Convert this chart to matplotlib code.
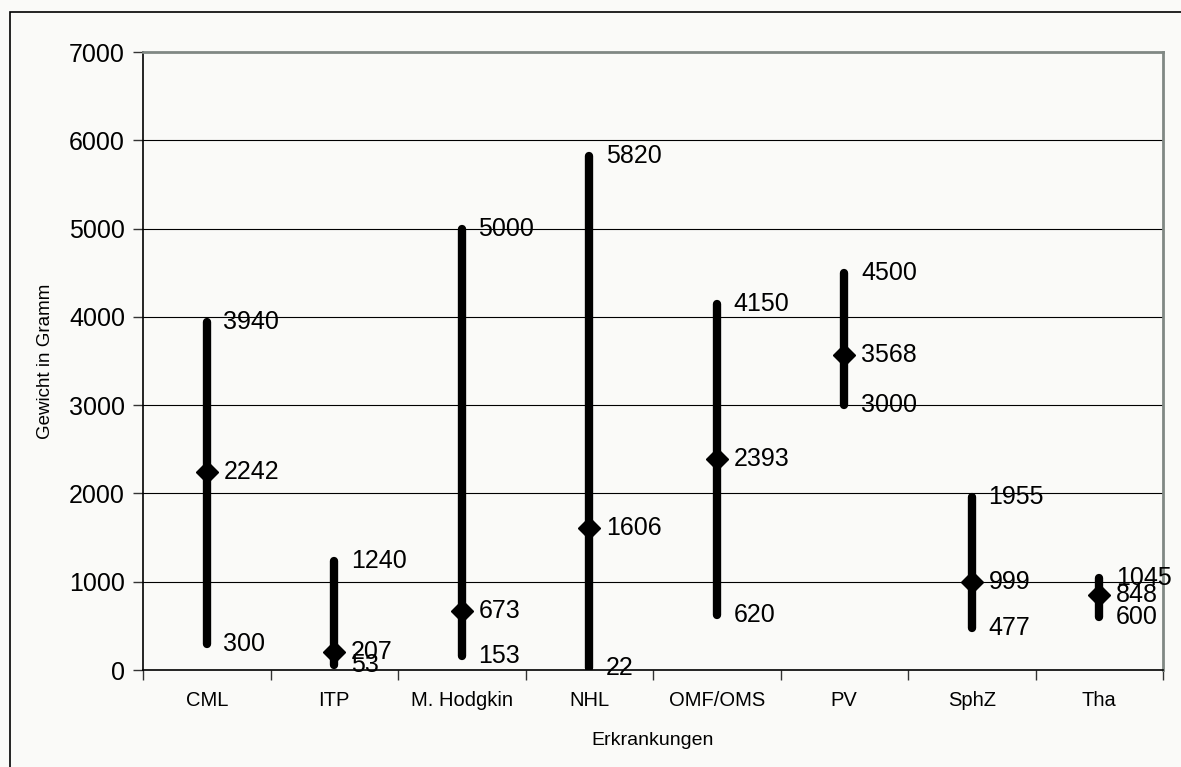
import matplotlib
matplotlib.use("Agg")
import matplotlib.pyplot as plt
from matplotlib.patches import Rectangle

# Spleen weights per disease: maximum, mean, minimum (grams)
categories = ["CML", "ITP", "M. Hodgkin", "NHL", "OMF/OMS", "PV", "SphZ", "Tha"]
max_vals = [3940, 1240, 5000, 5820, 4150, 4500, 1955, 1045]
mean_vals = [2242, 207, 673, 1606, 2393, 3568, 999, 848]
min_vals = [300, 53, 153, 22, 620, 3000, 477, 600]
y_ticks = [0, 1000, 2000, 3000, 4000, 5000, 6000, 7000]

plt.rcParams["font.family"] = ["Liberation Sans", "DejaVu Sans"]

W, H = 1181, 767
bg = "#fafaf8"
fig = plt.figure(figsize=(W / 100, H / 100), dpi=100, facecolor=bg)
ax = fig.add_axes([143 / W, 1 - 670 / H, 1020 / W, 618 / H], facecolor=bg)

x = list(range(len(categories)))

# horizontal gridlines
for t in y_ticks[1:-1]:
    ax.axhline(t, color="black", lw=0.8, zorder=1)

# high-low bars with mean markers
for xi, lo, hi, mu in zip(x, min_vals, max_vals, mean_vals):
    ax.plot([xi, xi], [lo, hi], color="black", lw=6.0,
            solid_capstyle="round", zorder=3)
    ax.plot([xi], [mu], marker="D", ms=11.5, color="black", zorder=4)
    for v in (hi, mu, lo):
        ax.annotate(f"{v}", xy=(xi, v), xytext=(12, 0),
                    textcoords="offset points", ha="left", va="center",
                    fontsize=18, color="black", zorder=5,
                    annotation_clip=False)

ax.set_xlim(-0.5, len(categories) - 0.5)
ax.set_ylim(0, 7000)
ax.set_yticks(y_ticks)
ax.set_yticklabels([str(t) for t in y_ticks], fontsize=18)

# category labels centered, ticks on boundaries
ax.set_xticks([i - 0.5 for i in range(len(categories) + 1)])
ax.set_xticklabels([])
ax.set_xticks(x, minor=True)
ax.set_xticklabels(categories, minor=True, fontsize=14.5)
ax.tick_params(axis="x", which="minor", length=0, pad=15)
ax.tick_params(axis="x", which="major", length=7, width=1, direction="out",
               color="#333333")
ax.tick_params(axis="y", length=7, width=1, direction="out", pad=6,
               color="#333333")

for side in ("left", "bottom"):
    ax.spines[side].set_color("black")
    ax.spines[side].set_linewidth(1.2)
for side in ("top", "right"):
    ax.spines[side].set_color("#808884")
    ax.spines[side].set_linewidth(2)

ax.set_xlabel("Erkrankungen", fontsize=14)
ax.xaxis.set_label_coords(0.5, -0.1003)
ax.set_ylabel("Gewicht in Gramm", fontsize=13.5, va="center")
ax.yaxis.set_label_coords(-0.096, 0.5)

# outer frame of the chart area (left and top edges visible)
fig.patches.append(Rectangle((10 / W, -0.2), 1.5, 1.2 - 12 / H,
                             transform=fig.transFigure, fill=False,
                             edgecolor="black", lw=1.2, clip_on=False))

fig.savefig("out.png", dpi=100, facecolor=bg)
